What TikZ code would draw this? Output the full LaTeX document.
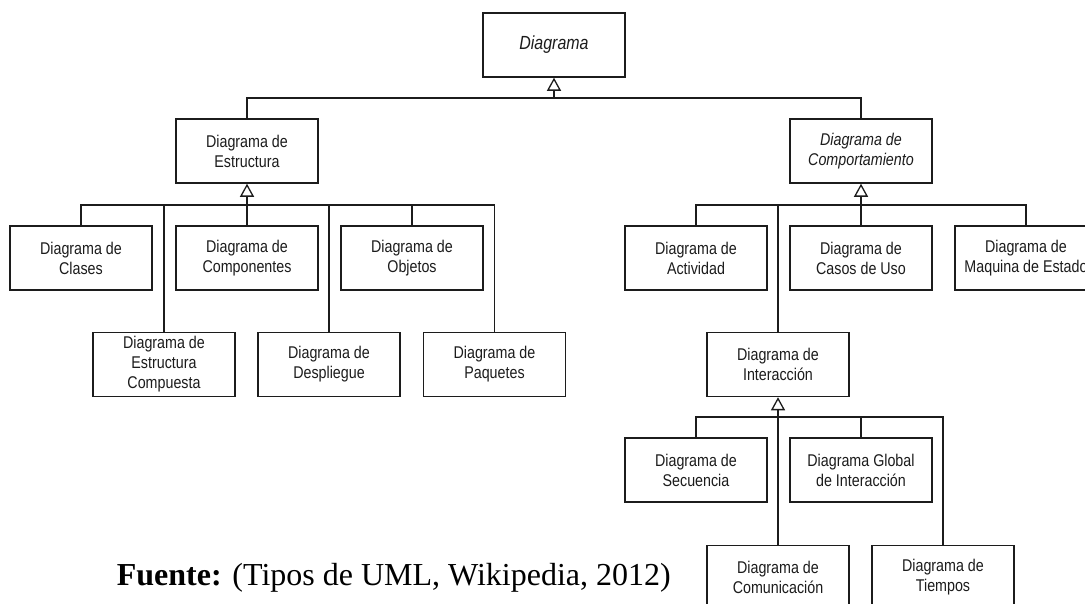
\documentclass[tikz,border=0pt]{standalone}
\usepackage{fontspec}
\setmainfont{Liberation Serif}
\newfontfamily\boxfont[FakeStretch=0.84]{Liberation Sans}
\usetikzlibrary{arrows.meta}
\definecolor{ink}{HTML}{1C1C1C}

\begin{document}
\begin{tikzpicture}[x=1pt, y=-1pt,
  box/.style={draw=ink, line width=1.5pt, fill=white, minimum width=142pt,
    minimum height=64pt, inner sep=0pt, align=center, text=ink,
    font=\boxfont\fontsize{17pt}{20pt}\selectfont},
  abstractbox/.style={box, font=\boxfont\itshape\fontsize{17pt}{20pt}\selectfont},
  link/.style={draw=ink, line width=1.3pt},
  gen/.style={link, -{Triangle[open, length=13pt, width=14pt, line width=1.3pt]}}
]
\useasboundingbox (0,0) rectangle (1085,603);
\clip (0,0) rectangle (1085,603);

% root
\node[abstractbox, font=\boxfont\itshape\fontsize{19pt}{22pt}\selectfont] (diag) at (554,45) {Diagrama};

% second level
\node[box] (estr) at (247,151) {Diagrama de\\Estructura};
\node[abstractbox] (comp) at (861,151) {Diagrama de\\Comportamiento};

% structure diagrams
\node[box] (clases) at (81,258)  {Diagrama de\\Clases};
\node[box] (compo)  at (247,258) {Diagrama de\\Componentes};
\node[box] (objet)  at (412,258) {Diagrama de\\Objetos};
\node[box] (compu)  at (164,364.5) {Diagrama de\\Estructura\\Compuesta};
\node[box] (despl)  at (329,364.5) {Diagrama de\\Despliegue};
\node[box] (paque)  at (494.5,364.5) {Diagrama de\\Paquetes};

% behaviour diagrams
\node[box] (activ) at (696,258)  {Diagrama de\\Actividad};
\node[box] (casos) at (861,258)  {Diagrama de\\Casos de Uso};
\node[box] (maqui) at (1026,258) {Diagrama de\\Maquina de Estado};
\node[box] (inter) at (778,364.5) {Diagrama de\\Interacción};

% interaction diagrams
\node[box] (secue) at (696,470) {Diagrama de\\Secuencia};
\node[box] (glob)  at (861,470) {Diagrama Global\\de Interacción};
\node[box] (comun) at (778,577.5) {Diagrama de\\Comunicación};
\node[box] (tiemp) at (943,577.5) {Diagrama de\\Tiempos};

% generalisation: Diagrama
\coordinate (tbar) at (554,98);
\draw[link] (estr.north) |- (tbar) -| (comp.north);
\draw[gen] (tbar) -- (diag.south);

% generalisation: Estructura
\coordinate (sbar) at (247,205);
\draw[link] (clases.north) |- (sbar) -| (paque.north);
\draw[link] (compo.north) -- (sbar);
\draw[link] (objet.north) -- (objet.north |- sbar);
\draw[link] (compu.north) -- (compu.north |- sbar);
\draw[link] (despl.north) -- (despl.north |- sbar);
\draw[gen] (sbar) -- (estr.south);

% generalisation: Comportamiento
\coordinate (bbar) at (861,205);
\draw[link] (activ.north) |- (bbar) -| (maqui.north);
\draw[link] (casos.north) -- (bbar);
\draw[link] (inter.north) -- (inter.north |- bbar);
\draw[gen] (bbar) -- (comp.south);

% generalisation: Interacción
\coordinate (ibar) at (778,417);
\draw[link] (secue.north) |- (ibar) -| (tiemp.north);
\draw[link] (glob.north) -- (glob.north |- ibar);
\draw[link] (comun.north) -- (ibar);
\draw[gen] (ibar) -- (inter.south);

% source line
\node[anchor=base west, inner sep=0pt, font=\fontsize{32pt}{38pt}\selectfont] (fuente) at (116.7,585)
  {\textbf{Fuente:} (Tipos de UML, Wikipedia, 2012)};
\end{tikzpicture}
\end{document}
